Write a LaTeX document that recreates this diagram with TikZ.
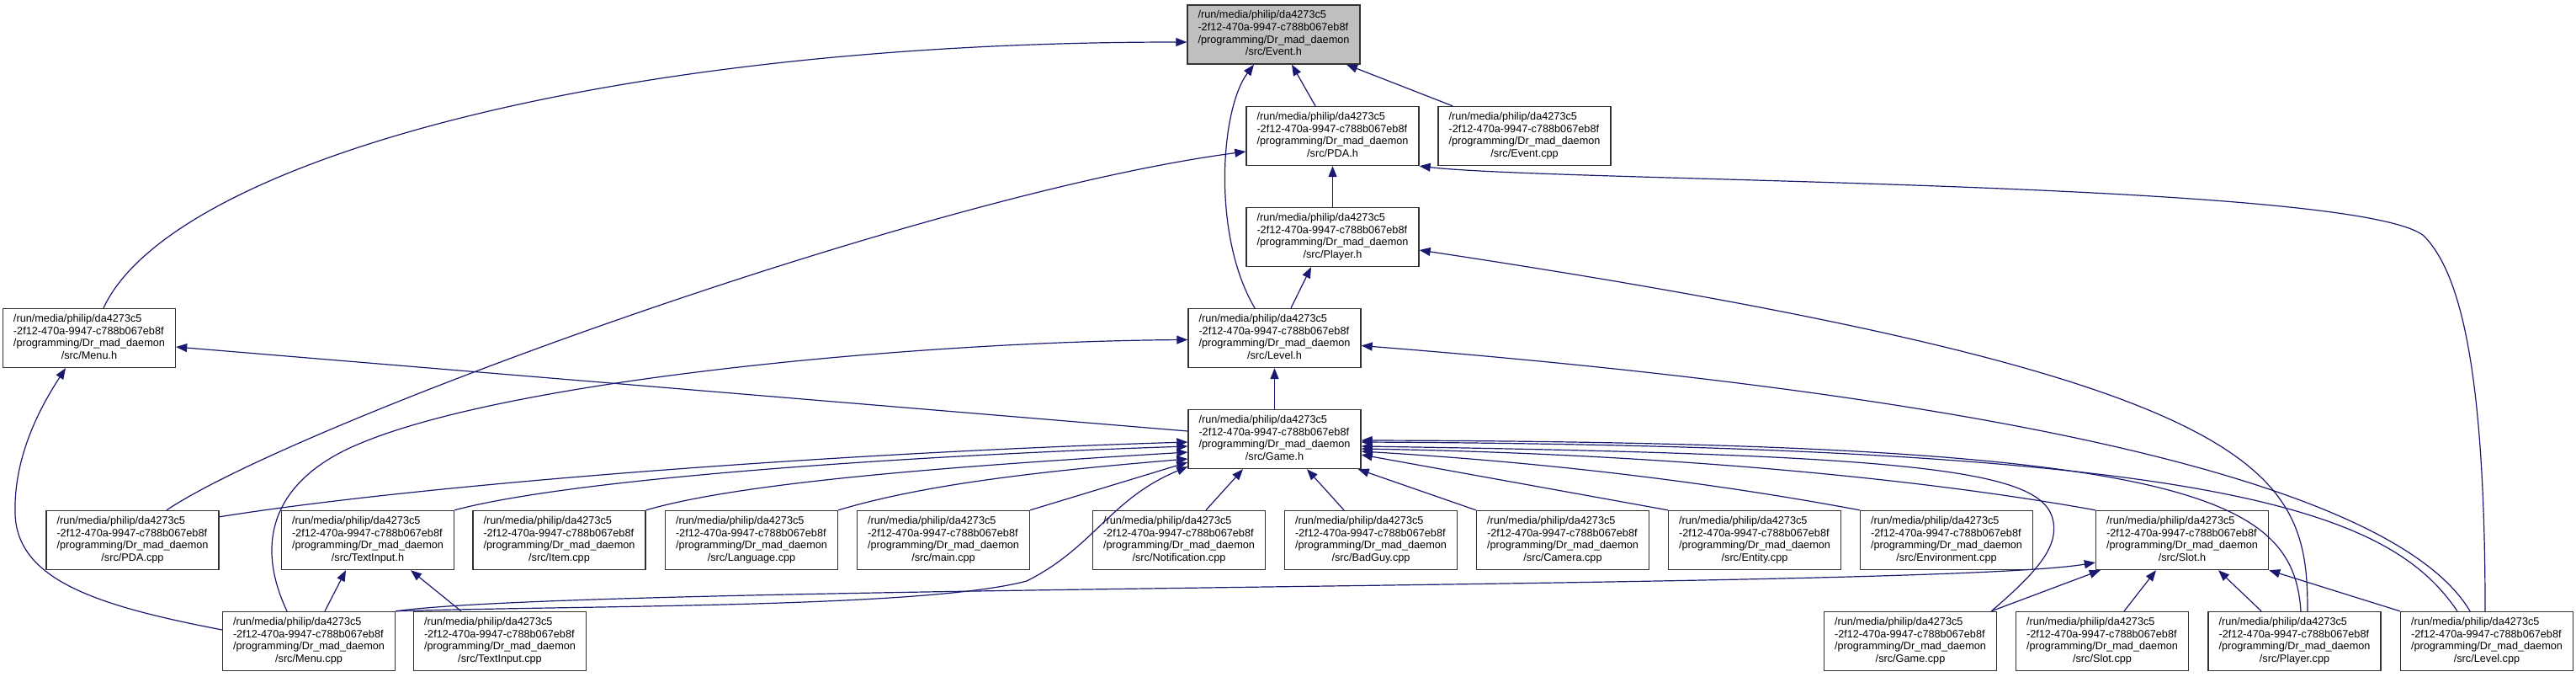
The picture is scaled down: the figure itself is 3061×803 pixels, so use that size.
\documentclass[tikz,border=0pt]{standalone}
\usepackage{fontspec}
\setmainfont{Liberation Sans}
\usepackage{tikz}
\usetikzlibrary{arrows.meta}
\definecolor{edgeblue}{RGB}{25, 25, 112}
\definecolor{boxline}{RGB}{50, 50, 50}
\definecolor{boxgrey}{RGB}{191, 191, 191}

\newcommand{\srcpath}[1]{%
  \begin{tabular}{@{}l@{}}
    /run/media/philip/da4273c5\\
    -2f12-470a-9947-c788b067eb8f\\
    /programming/Dr\_mad\_daemon\\
    \multicolumn{1}{@{}c@{}}{/src/#1}
  \end{tabular}}

\tikzset{
  srcfile/.style={draw=boxline, fill=white, line width=1.4pt, inner sep=0pt,
    minimum width=205pt, minimum height=70pt,
    font=\fontsize{12.7pt}{14.7pt}\selectfont},
  curfile/.style={srcfile, fill=boxgrey},
  dep/.style={edgeblue, line width=1.2pt, -{Triangle[length=13pt, width=10pt]}}
}

\begin{document}
\begin{tikzpicture}[x=1pt, y=1pt]

  \pgfmathsetmacro{\ya}{-41};
  \pgfmathsetmacro{\yb}{-161.5};
  \pgfmathsetmacro{\yc}{-281.5};
  \pgfmathsetmacro{\yd}{-401.5};
  \pgfmathsetmacro{\ye}{-521.5};
  \pgfmathsetmacro{\yf}{-641.5};
  \pgfmathsetmacro{\yg}{-761.5};

  \useasboundingbox (0, 0) rectangle (3061, -803);

  % headers
  \node[curfile] (eventh) at (1513.5, \ya) {\srcpath{Event.h}};
  \node[srcfile] (pdah) at (1583.5, \yb) {\srcpath{PDA.h}};
  \node[srcfile] (eventcpp) at (1811.5, \yb) {\srcpath{Event.cpp}};
  \node[srcfile] (playerh) at (1583.5, \yc) {\srcpath{Player.h}};
  \node[srcfile] (menuh) at (106, \yd) {\srcpath{Menu.h}};
  \node[srcfile] (levelh) at (1514.5, \yd) {\srcpath{Level.h}};
  \node[srcfile] (gameh) at (1514.5, \ye) {\srcpath{Game.h}};

  % sixth row
  \node[srcfile] (pdacpp) at (157.5, \yf) {\srcpath{PDA.cpp}};
  \node[srcfile] (textinputh) at (437, \yf) {\srcpath{TextInput.h}};
  \node[srcfile] (itemcpp) at (664.5, \yf) {\srcpath{Item.cpp}};
  \node[srcfile] (languagecpp) at (893, \yf) {\srcpath{Language.cpp}};
  \node[srcfile] (maincpp) at (1121, \yf) {\srcpath{main.cpp}};
  \node[srcfile] (notificationcpp) at (1401, \yf) {\srcpath{Notification.cpp}};
  \node[srcfile] (badguycpp) at (1629, \yf) {\srcpath{BadGuy.cpp}};
  \node[srcfile] (cameracpp) at (1857, \yf) {\srcpath{Camera.cpp}};
  \node[srcfile] (entitycpp) at (2085, \yf) {\srcpath{Entity.cpp}};
  \node[srcfile] (environmentcpp) at (2313, \yf) {\srcpath{Environment.cpp}};
  \node[srcfile] (sloth) at (2593, \yf) {\srcpath{Slot.h}};

  % last row
  \node[srcfile] (menucpp) at (367, \yg) {\srcpath{Menu.cpp}};
  \node[srcfile] (textinputcpp) at (594, \yg) {\srcpath{TextInput.cpp}};
  \node[srcfile] (gamecpp) at (2270, \yg) {\srcpath{Game.cpp}};
  \node[srcfile] (slotcpp) at (2498, \yg) {\srcpath{Slot.cpp}};
  \node[srcfile] (playercpp) at (2726.5, \yg) {\srcpath{Player.cpp}};
  \node[srcfile] (levelcpp) at (2955, \yg) {\srcpath{Level.cpp}};

  % into Event.h
  \draw[dep] ([xshift=17pt]menuh.north) .. controls +(77,167) and +(-711,0) .. ([yshift=-9pt]eventh.west);
  \draw[dep] ([xshift=-23.5pt]levelh.north) .. controls +(-51,86) and +(-40,-53) .. ([xshift=-23.5pt]eventh.south);
  \draw[dep] ([xshift=-20.5pt]pdah.north) -- ([xshift=21.5pt]eventh.south);
  \draw[dep] ([xshift=-85.5pt]eventcpp.north) -- ([xshift=86.5pt]eventh.south);

  % into PDA.h
  \draw[dep] ([xshift=40.5pt]pdacpp.north) .. controls +(152,102) and +(-381,-50) .. ([yshift=-18.5pt]pdah.west);
  \draw[dep] (playerh) -- (pdah);
  \draw[dep] ([xshift=-2pt]levelcpp.north) .. controls +(0,280) and +(45,-45) .. (2880,-280)
    .. controls +(-80,65) and +(164,-19) .. (pdah.south east);

  % into Player.h
  \draw[dep] ([xshift=19.5pt]levelh.north) -- ([xshift=-25.5pt]playerh.south);
  \draw[dep] ([xshift=15.5pt]playercpp.north) .. controls +(0,167) and +(1014,-153) .. ([yshift=-15.5pt]playerh.east);

  % into Menu.h
  \draw[dep] ([yshift=9.5pt]gameh.west) -- ([yshift=-10.5pt]menuh.east);
  \draw[dep] ([yshift=13.5pt]menucpp.west) .. controls +(-145,28) and +(2,-80) .. (18,-610)
    .. controls +(-2,70) and +(-28,-43) .. ([xshift=-28pt]menuh.south);

  % into Level.h
  \draw[dep] (gameh) -- (levelh);
  \draw[dep] ([xshift=-26pt]menucpp.north) .. controls +(-41,87) and +(-90,-40) .. (420,-530)
    .. controls +(180,80) and +(-312,-2) .. ([yshift=-2pt]levelh.west);
  \draw[dep] ([xshift=-20pt]levelcpp.north) .. controls +(-75,127) and +(883,-70) .. ([yshift=-9pt]levelh.east);

  % into Game.h, left side
  \draw[dep] ([yshift=-8pt]pdacpp.north east) .. controls +(250,40) and +(-400,-12) .. ([yshift=-3.5pt]gameh.west);
  \draw[dep] (textinputh.north east) .. controls +(150,40) and +(-300,-10) .. ([yshift=-8.5pt]gameh.west);
  \draw[dep] (itemcpp.north east) .. controls +(120,35) and +(-250,-15) .. ([yshift=-15.5pt]gameh.west);
  \draw[dep] (languagecpp.north east) .. controls +(100,30) and +(-180,-15) .. ([yshift=-23.5pt]gameh.west);
  \draw[dep] (maincpp.north east) -- ([yshift=-27.5pt]gameh.west);
  \draw[dep] (menucpp.north east) .. controls +(231,7) and +(-120,-32) .. (1220,-690)
    .. controls +(80,40) and +(-92,-38) .. ([yshift=3pt]gameh.south west);

  % into Game.h, from below
  \draw[dep] ([xshift=32pt]notificationcpp.north) -- ([xshift=-37.5pt]gameh.south);
  \draw[dep] ([xshift=-32pt]badguycpp.north) -- ([xshift=38.5pt]gameh.south);
  \draw[dep] (cameracpp.north west) -- ([xshift=-4pt]gameh.south east);

  % into Game.h, right side
  \draw[dep] (entitycpp.north west) -- ([yshift=-18.5pt]gameh.east);
  \draw[dep] (environmentcpp.north west) .. controls +(-150,28) and +(250,-15) .. ([yshift=-14.5pt]gameh.east);
  \draw[dep] (sloth.north west) .. controls +(-250,45) and +(300,-5) .. ([yshift=-11.5pt]gameh.east);
  \draw[dep] ([xshift=-7pt]gamecpp.north east) .. controls +(55,47) and +(5,-30) .. (2440,-620)
    .. controls +(-10,60) and +(683,-10) .. ([yshift=-8.5pt]gameh.east);
  \draw[dep] ([xshift=7.5pt]playercpp.north) .. controls +(-9,137) and +(983,-2) .. ([yshift=-1.5pt]gameh.east);
  \draw[dep] ([xshift=-35pt]levelcpp.north) .. controls +(-80,117) and +(1033,-5) .. ([yshift=-3.5pt]gameh.east);

  % into Slot.h
  \draw[dep] (menucpp.north east) .. controls +(231,32) and +(-191,-32) .. ([yshift=-26.5pt]sloth.west);
  \draw[dep] ([xshift=-7pt]gamecpp.north east) -- ([xshift=6pt]sloth.south west);
  \draw[dep] ([xshift=26pt]slotcpp.north) -- ([xshift=-31pt]sloth.south);
  \draw[dep] ([xshift=-39.5pt]playercpp.north) -- ([xshift=43pt]sloth.south);
  \draw[dep] (levelcpp.north west) -- (sloth.south east);

  % into TextInput.h
  \draw[dep] ([xshift=19pt]menucpp.north) -- ([xshift=-26pt]textinputh.south);
  \draw[dep] ([xshift=-46pt]textinputcpp.north) -- ([xshift=51pt]textinputh.south);

\end{tikzpicture}
\end{document}
